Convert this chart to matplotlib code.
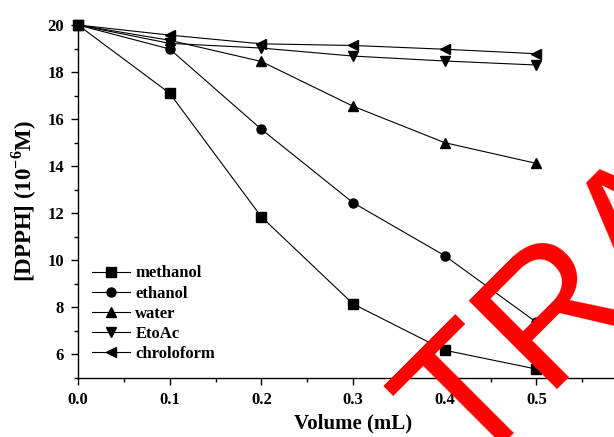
import numpy as np
import matplotlib
matplotlib.use("Agg")
import matplotlib.pyplot as plt
from matplotlib.ticker import MultipleLocator

# Data
volume = [0.0, 0.1, 0.2, 0.3, 0.4, 0.5]
methanol = [20.0, 17.1, 11.85, 8.15, 6.18, 5.38]
ethanol = [20.0, 18.98, 15.57, 12.45, 10.2, 7.37]
water = [20.0, 19.35, 18.45, 16.55, 15.0, 14.12]
etoac = [20.0, 19.22, 19.02, 18.68, 18.47, 18.3]
chloroform = [20.0, 19.57, 19.2, 19.13, 18.97, 18.78]

series_names = ["methanol", "ethanol", "water", "EtoAc", "chroloform"]
series_values = [methanol, ethanol, water, etoac, chloroform]
series_markers = ["s", "o", "^", "v", "<"]

plt.rcParams["font.family"] = "Liberation Serif"
plt.rcParams["font.weight"] = "bold"
plt.rcParams["mathtext.fontset"] = "custom"
plt.rcParams["mathtext.rm"] = "Liberation Serif:bold"
plt.rcParams["mathtext.bf"] = "Liberation Serif:bold"

fig = plt.figure(figsize=(6.14, 4.37), dpi=100)
ax = fig.add_axes([78 / 614, 59 / 437, 550 / 614, 353 / 437])

for name, vals, mk in zip(series_names, series_values, series_markers):
    ax.plot(volume, vals, color="black", linewidth=0.8, marker=mk,
            markersize=6.5, label=name, clip_on=False)

ax.set_xlim(0, 0.6)
ax.set_ylim(5, 20)
ax.xaxis.set_minor_locator(MultipleLocator(0.05))
ax.yaxis.set_minor_locator(MultipleLocator(1))
ax.set_xticks([0, 0.1, 0.2, 0.3, 0.4, 0.5])
ax.set_xticklabels(["0.0", "0.1", "0.2", "0.3", "0.4", "0.5"])
ax.set_yticks([6, 8, 10, 12, 14, 16, 18, 20])

for s in ["top", "right"]:
    ax.spines[s].set_visible(False)
for s in ["left", "bottom"]:
    ax.spines[s].set_linewidth(1.0)

ax.tick_params(which="major", direction="out", length=5, width=1,
               labelsize=12, pad=5)
ax.tick_params(which="minor", direction="out", length=3, width=1)

ax.set_xlabel("Volume (mL)", fontsize=15, fontweight="bold", labelpad=4)
ax.set_ylabel("[DPPH] (10$^{-6}$M)", fontsize=16.5,
              fontweight="bold", labelpad=6)

leg = ax.legend(loc="lower left", bbox_to_anchor=(14 / 550, 16 / 353),
                frameon=False, fontsize=12, handlelength=2.3,
                handletextpad=0.3, labelspacing=0.25, borderaxespad=0,
                borderpad=0)

# red watermark, only "TRA" shows inside the cropped picture
fig.text(469 / 614, 1 - 475 / 437, "TRA", color="red", fontsize=130,
         fontweight="normal", family="Liberation Sans", rotation=45,
         rotation_mode="anchor", ha="left", va="baseline")

fig.savefig("out.png", dpi=100)
